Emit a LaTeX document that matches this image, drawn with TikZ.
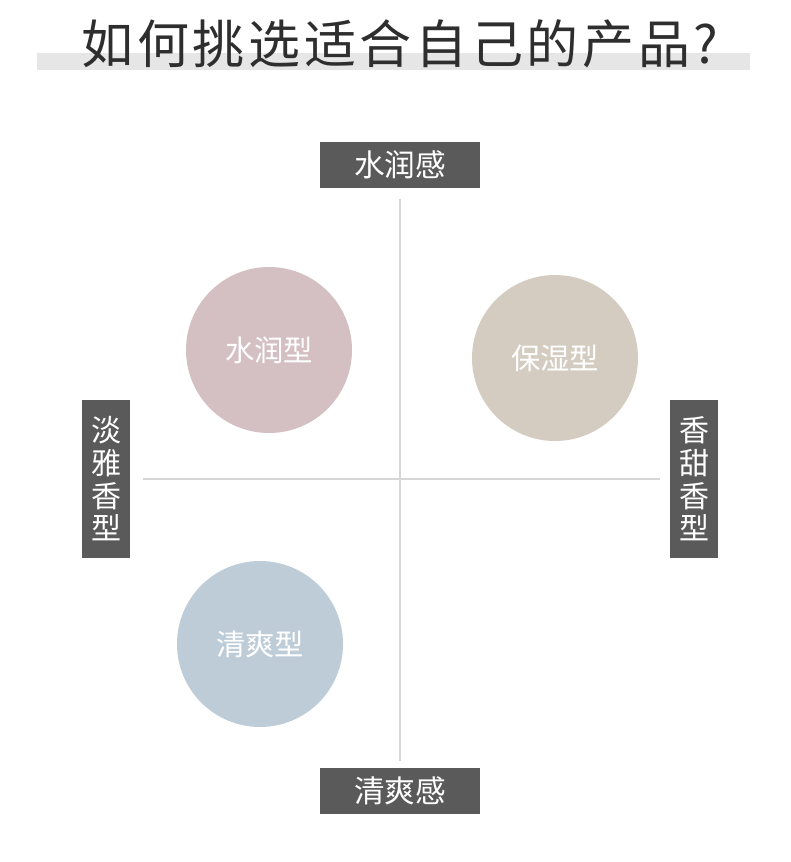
\documentclass[tikz,border=0pt]{standalone}
\usepackage{fontspec}
\setmainfont{Noto Sans CJK SC}
\newfontfamily\titlefont[LetterSpace=7]{Noto Sans CJK SC}
\usetikzlibrary{positioning}
\definecolor{titlegray}{HTML}{2E2E2E}
\definecolor{bandgray}{HTML}{E6E6E6}
\definecolor{labelgray}{HTML}{5A5A5A}
\definecolor{axisgray}{HTML}{D6D6D6}
\definecolor{rosepink}{HTML}{D4BFC3}
\definecolor{sandbeige}{HTML}{D4CCC1}
\definecolor{mistblue}{HTML}{BDCCD7}
\tikzset{
  hbox/.style={fill=labelgray, text=white, inner sep=0pt,
    minimum width=120pt, minimum height=35pt,
    font=\fontsize{23}{25}\selectfont},
  vbox/.style={fill=labelgray, text=white, inner sep=0pt, align=center,
    minimum width=36pt, minimum height=119pt,
    font=\fontsize{22.5}{24.5}\selectfont},
  scent/.style={circle, inner sep=0pt, minimum size=124.5pt, text=white,
    font=\fontsize{22}{24}\selectfont},
  axisline/.style={axisgray, line width=1.5pt}
}
\begin{document}
\begin{tikzpicture}[x=0.75pt, y=-0.75pt]
    \useasboundingbox (0,0) rectangle (790,862);
    % title with grey band
    \fill[bandgray] (37,53) rectangle (750,70);
    \node[text=titlegray, font=\titlefont\fontsize{39}{41}\selectfont] (title) at (400,44) {如何挑选适合自己的产品?};
    % axis labels
    \node[hbox] (moist) at (400,165) {水润感};
    \node[hbox] (fresh) at (400,791) {清爽感};
    \node[vbox] (light) at (106,479) {淡\\雅\\香\\型};
    \node[vbox] (sweet) at (694,479) {香\\甜\\香\\型};
    % axes
    \draw[axisline, shorten <=7.5pt, shorten >=5pt] (moist) -- (fresh);
    \draw[axisline, shorten <=9.5pt, shorten >=7.5pt] (light) -- (sweet);
    % product types
    \node[scent, fill=rosepink] (hydra) at (269,350) {水润型};
    \node[scent, fill=sandbeige] (keep) at (555,358) {保湿型};
    \node[scent, fill=mistblue] (cool) at (260,644) {清爽型};
\end{tikzpicture}
\end{document}
